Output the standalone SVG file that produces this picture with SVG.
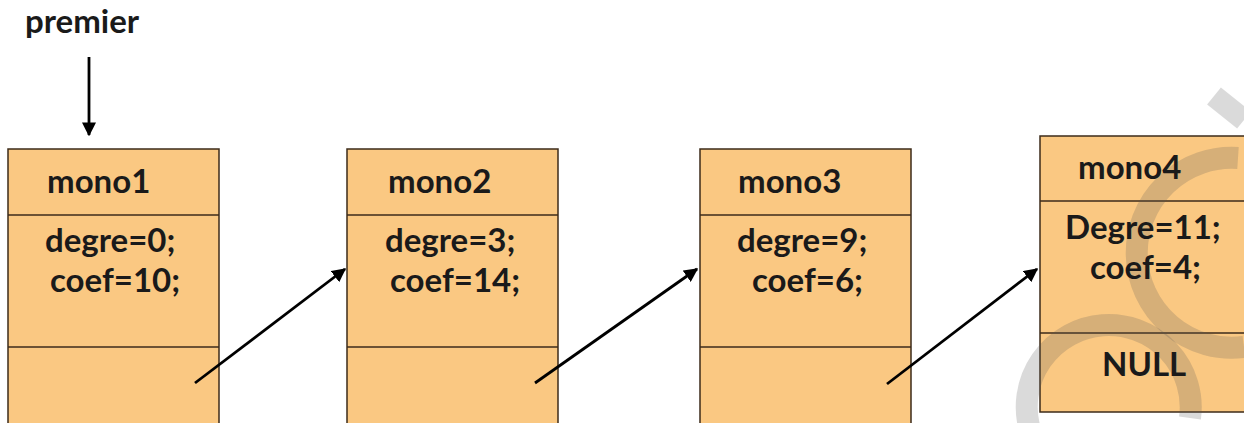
<svg xmlns="http://www.w3.org/2000/svg" width="1244" height="423" viewBox="0 0 1244 423">
<style>
.box{fill:#FAC882;stroke:#3d2b1a;stroke-width:1.5}
.div{stroke:#3d2b1a;stroke-width:1.5}
text{font-family:Lato,"Open Sans","Liberation Sans",sans-serif;font-weight:bold;font-size:33px;fill:#1a1a1a}
.con{stroke:#000;stroke-width:2.8;fill:none;marker-end:url(#ah)}
.wm{fill:none;stroke:#555;stroke-opacity:0.22;stroke-width:22}
</style>
<defs>
<marker id="ah" viewBox="0 0 10 10" refX="9" refY="5" markerWidth="5" markerHeight="5" orient="auto" markerUnits="strokeWidth">
<path d="M0,0 L10,5 L0,10 z" fill="#000"/>
</marker>
</defs>
<rect width="1244" height="423" fill="#fff"/>
<text x="25" y="33">premier</text>
<g id="mono1">
<rect class="box" x="8" y="149" width="211" height="280"/>
<line class="div" x1="8" y1="215" x2="219" y2="215"/>
<line class="div" x1="8" y1="347" x2="219" y2="347"/>
<text x="47" y="193">mono1</text>
<text x="45" y="252">degre=0;</text>
<text x="50" y="292">coef=10;</text>
</g>
<g id="mono2">
<rect class="box" x="347" y="149" width="211" height="280"/>
<line class="div" x1="347" y1="215" x2="558" y2="215"/>
<line class="div" x1="347" y1="347" x2="558" y2="347"/>
<text x="388" y="193">mono2</text>
<text x="385" y="252">degre=3;</text>
<text x="390" y="292">coef=14;</text>
</g>
<g id="mono3">
<rect class="box" x="700" y="149" width="211" height="280"/>
<line class="div" x1="700" y1="215" x2="911" y2="215"/>
<line class="div" x1="700" y1="347" x2="911" y2="347"/>
<text x="738" y="193">mono3</text>
<text x="737" y="252">degre=9;</text>
<text x="752" y="292">coef=6;</text>
</g>
<g id="mono4">
<rect class="box" x="1040" y="136" width="211" height="276"/>
<line class="div" x1="1040" y1="201" x2="1251" y2="201"/>
<line class="div" x1="1040" y1="333" x2="1251" y2="333"/>
</g>
<g id="watermark">
<path class="wm" d="M1238,158 A95,95 0 1 0 1244,347"/>
<path class="wm" d="M1030,430 A82,82 0 1 1 1190,418"/>
<path class="wm" stroke-width="16" d="M1214,96 L1244,120"/>
</g>
<g id="mono4-text">
<text x="1078" y="179">mono4</text>
<text x="1065" y="239">Degre=11;</text>
<text x="1090" y="279">coef=4;</text>
<text x="1102" y="376">NULL</text>
</g>
<g id="connectors">
<line class="con" x1="89" y1="57" x2="89" y2="135"/>
<line class="con" x1="195" y1="383" x2="345" y2="269"/>
<line class="con" x1="535" y1="383" x2="697" y2="269"/>
<line class="con" x1="887" y1="384" x2="1037" y2="269"/>
</g>
</svg>
